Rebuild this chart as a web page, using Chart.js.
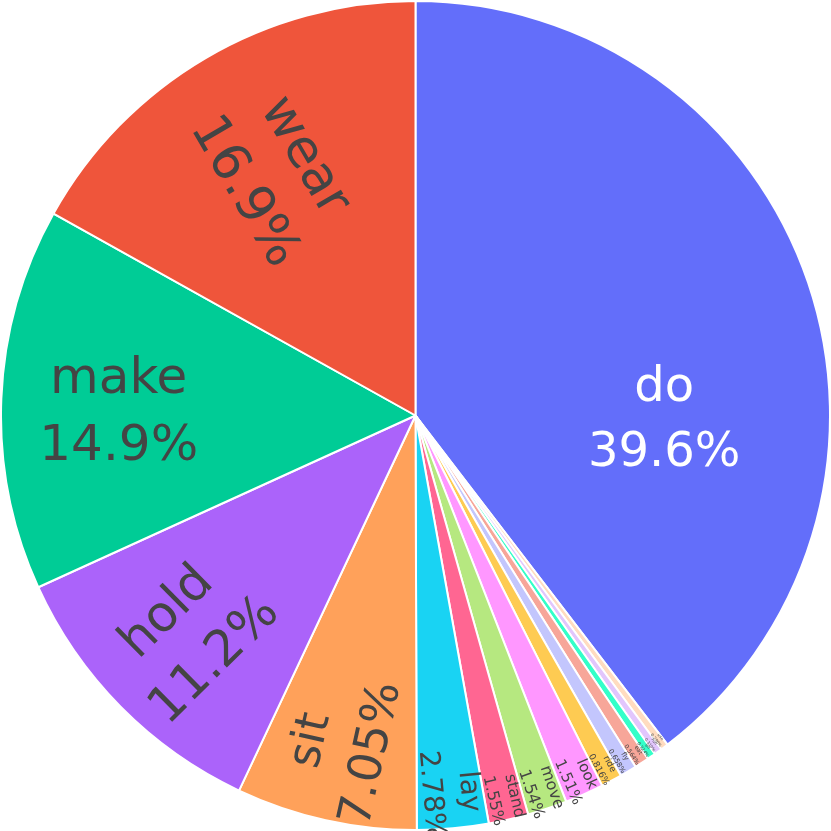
<!DOCTYPE html>
<html><head><meta charset="utf-8">
<script src="https://cdn.jsdelivr.net/npm/chart.js@4"></script>
<style>html,body{margin:0;padding:0;background:#fff;}#wrap{width:831px;height:831px;}</style>
</head><body><div id="wrap"><canvas id="c" width="831" height="831"></canvas></div>
<script>
// Data in clockwise drawing order starting at 12 o'clock
const categories = ["do","use","run","go","eat","fly","ride","look","move","stand","lay","sit","hold","make","wear"];
const shares = [39.6, 0.298, 0.310, 0.324, 0.564, 0.658, 0.816, 1.51, 1.54, 1.55, 2.78, 7.05, 11.2, 14.9, 16.9];
const sliceColors = ["#636efa","#ffdcc0","#e2c6fd","#33ffc9","#f7a699","#c3c6fd","#FECB52","#FF97FF","#B6E880","#FF6692","#19d3f3","#FFA15A","#ab63fa","#00cc96","#EF553B"];

// label styling (mode: h = horizontal, r = radial), size in px, radial fraction, angle offset in degrees
const labelStyle = [
  {mode:"h", size:48, frac:0.60, off:20, color:"#fff"},
  {mode:"r", size:4, frac:0.975, off:0, color:"#444"},
  {mode:"r", size:4, frac:0.975, off:0, color:"#444"},
  {mode:"r", size:4.5, frac:0.975, off:0, color:"#444"},
  {mode:"r", size:6, frac:0.97, off:0, color:"#444"},
  {mode:"r", size:7, frac:0.965, off:0, color:"#444"},
  {mode:"r", size:9, frac:0.962, off:0, color:"#444"},
  {mode:"r", size:15, frac:0.958, off:0, color:"#444"},
  {mode:"r", size:16, frac:0.955, off:0, color:"#444"},
  {mode:"r", size:16, frac:0.948, off:0, color:"#444"},
  {mode:"r", size:28, frac:0.915, off:0, color:"#444"},
  {mode:"r", size:46, frac:0.82, off:0, color:"#444"},
  {mode:"r", size:50, frac:0.76, off:0, color:"#444"},
  {mode:"h", size:50, frac:0.716, off:-2, color:"#444"},
  {mode:"r", size:52, frac:0.675, off:0, color:"#444"}
];

const labelPlugin = {
  id: "sliceLabels",
  afterDatasetsDraw(chart) {
    const ctx = chart.ctx;
    const meta = chart.getDatasetMeta(0);
    const total = shares.reduce((a,b)=>a+b,0);
    meta.data.forEach((arc, i) => {
      const st = labelStyle[i];
      const p = arc.getProps(["x","y","startAngle","endAngle","outerRadius"], true);
      const mid = (p.startAngle + p.endAngle)/2 + st.off*Math.PI/180;
      const r = p.outerRadius * st.frac;
      const x = p.x + r*Math.cos(mid), y = p.y + r*Math.sin(mid);
      let rot = 0;
      if (st.mode === "r") {
        rot = mid + Math.PI;
        while (rot > Math.PI) rot -= 2*Math.PI;
        while (rot <= -Math.PI) rot += 2*Math.PI;
        if (rot > Math.PI/2) rot -= Math.PI;
        if (rot < -Math.PI/2) rot += Math.PI;
      }
      const pct = (shares[i]/total*100).toPrecision(3) + "%";
      ctx.save();
      ctx.translate(x, y);
      ctx.rotate(rot);
      ctx.fillStyle = st.color;
      ctx.font = st.size + "px 'DejaVu Sans'";
      ctx.textAlign = "center";
      ctx.textBaseline = "middle";
      const lh = st.size*1.35;
      ctx.fillText(categories[i], 0, -lh/2);
      ctx.fillText(pct, 0, lh/2);
      ctx.restore();
    });
  }
};

new Chart(document.getElementById("c"), {
  type: "pie",
  data: { labels: categories, datasets: [{ data: shares, backgroundColor: sliceColors, borderColor: "#ffffff", borderWidth: 2, hoverOffset: 0 }] },
  options: {
    responsive: false, animation: false,
    layout: { padding: 0 },
    plugins: { legend: { display: false }, tooltip: { enabled: false } }
  },
  plugins: [labelPlugin]
});
</script>
</body></html>
